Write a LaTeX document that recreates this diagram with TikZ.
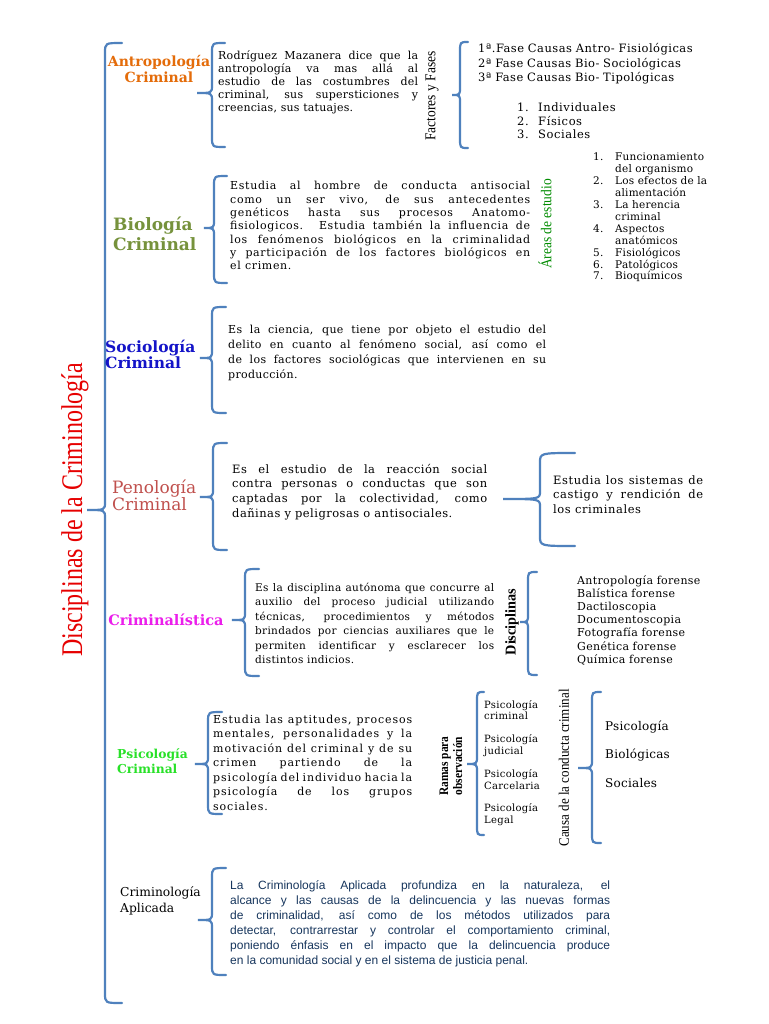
\documentclass[tikz,border=0pt]{standalone}
\usepackage{fontspec}
\setmainfont{DejaVu Serif}
\setsansfont{Liberation Sans}
\newfontfamily\angosta{Liberation Serif}
\usetikzlibrary{positioning,decorations.pathreplacing}
\definecolor{llaveazul}{RGB}{79,129,189}
\definecolor{antro}{RGB}{228,108,10}
\definecolor{bio}{RGB}{118,146,60}
\definecolor{socio}{RGB}{20,20,200}
\definecolor{peno}{RGB}{192,80,77}
\definecolor{crimi}{RGB}{235,30,235}
\definecolor{psico}{RGB}{40,225,40}
\definecolor{areas}{RGB}{0,140,0}
\definecolor{aplic}{RGB}{23,54,93}
\definecolor{titulo}{RGB}{230,0,0}
% tamano / interlineado / espaciado de letras
\newcommand\letra[3]{\fontsize{#1}{#2}\selectfont\addfontfeatures{LetterSpace=#3}}

\begin{document}
\begin{tikzpicture}[x=1pt,y=-1pt,
	llave/.style={draw=llaveazul,line width=2.2pt,line cap=round},
	cat/.style={inner sep=0pt,text width=120pt,align=left,anchor=base west},
	cuerpo/.style={anchor=base west,inner sep=0pt,align=justify},
	lista/.style={anchor=base west,inner sep=0pt,text width=260pt,align=left},
	vert/.style={rotate=90,inner sep=0pt,align=center,font=\angosta}]
	\useasboundingbox[fill=white] (0,0) rectangle (768,1024);
	
	% llaves: espina x / arriba / abajo / punta x / punta y / gancho
	\foreach \s/\t/\b/\tx/\ty/\h in {105/43/1003/87/510/17, 212/43/147/197/93/13,
		460/42/148/452/95/8, 214/176/283/204/228/13, 212/307/413/200/358/14,
		213/443/550/200/497/14, 540/453/546/503/499/35, 245/569/676/232/620/14,
		528/572/675/520/622/9, 208/712/814/195/764/14, 477/692/835/467/764/7,
		592/692/843/578/768/9, 212/868/975/198/920/14}{
		\draw[llave] ({\s+\h},\t) .. controls (\s,\t) .. (\s,{\t+10})
			-- (\s,{\ty-8}) .. controls (\s,\ty) .. (\tx,\ty)
			.. controls (\s,\ty) .. (\s,{\ty+8})
			-- (\s,{\b-10}) .. controls (\s,\b) .. ({\s+\h},\b);
	}
	
	% titulo
	\node[vert,text=titulo,font=\angosta\fontsize{30}{32}\selectfont] (titulo) at (75,510)
		{\scalebox{0.8}[1]{Disciplinas de la Criminología}};
	
	% disciplinas
	\node[cat,align=center,anchor=base,text=antro,font=\bfseries\fontsize{14}{16}\selectfont] (antro) at (159,67)
		{Antropología\\Criminal};
	\node[cat,text=bio,font=\bfseries\fontsize{17}{19}\selectfont] (bio) at (113,231) {Biología\\Criminal};
	\node[cat,text=socio,font=\bfseries\fontsize{15.5}{16.5}\selectfont] (socio) at (105,352) {Sociología\\Criminal};
	\node[cat,text=peno,font=\fontsize{17}{17}\selectfont] (peno) at (112,493) {Penología\\Criminal};
	\node[cat,align=center,anchor=base,text=crimi,font=\bfseries\fontsize{14.5}{15}\selectfont] (crimi) at (166,625) {Criminalística};
	\node[cat,text=psico,font=\bfseries\fontsize{12.3}{15}\selectfont] (psico) at (117,758) {Psicología\\Criminal};
	\node[cat,font=\fontsize{12.3}{16}\selectfont] (aplic) at (120,896) {Criminología\\Aplicada};
	
	% textos
	\node[cuerpo,text width=200pt,font=\letra{11}{12.9}{2}] (tAntro) at (218,60)
		{Rodríguez Mazanera dice que la\linebreak antropología va mas allá al\linebreak
		estudio de las costumbres del\linebreak criminal, sus supersticiones y\linebreak
		creencias, sus tatuajes.};
	\node[cuerpo,text width=300pt,font=\letra{11}{13.3}{6}] (tBio) at (230,190)
		{Estudia al hombre de conducta antisocial\linebreak como un ser vivo, de sus antecedentes\linebreak
		genéticos hasta sus procesos Anatomo-\linebreak fisiologicos. Estudia también la influencia de\linebreak
		los fenómenos biológicos en la criminalidad\linebreak y participación de los factores biológicos en\linebreak
		el crimen.};
	\node[cuerpo,text width=318pt,font=\letra{11}{15}{3}] (tSocio) at (228,333)
		{Es la ciencia, que tiene por objeto el estudio del\linebreak delito en cuanto al fenómeno social, así como el\linebreak
		de los factores sociológicas que intervienen en su\linebreak producción.};
	\node[cuerpo,text width=255pt,font=\letra{11.5}{14.7}{4}] (tPeno) at (232,473)
		{Es el estudio de la reacción social\linebreak contra personas o conductas que son\linebreak
		captadas por la colectividad, como\linebreak dañinas y peligrosas o antisociales.};
	\node[cuerpo,text width=150pt,font=\letra{11.5}{14.5}{5}] (tCastigo) at (553,484)
		{Estudia los sistemas de\linebreak castigo y rendición de\linebreak los criminales};
	\node[cuerpo,text width=239pt,font=\letra{10.5}{14.5}{3}] (tCrimi) at (255,591)
		{Es la disciplina autónoma que concurre al\linebreak auxilio del proceso judicial utilizando\linebreak
		técnicas, procedimientos y métodos\linebreak brindados por ciencias auxiliares que le\linebreak
		permiten identificar y esclarecer los\linebreak distintos indicios.};
	\node[cuerpo,text width=199pt,font=\letra{11}{14.5}{8}] (tPsico) at (213,723)
		{Estudia las aptitudes, procesos\linebreak mentales, personalidades y la\linebreak
		motivación del criminal y de su\linebreak crimen partiendo de la\linebreak
		psicología del individuo hacia la\linebreak psicología de los grupos\linebreak sociales.};
	\node[cuerpo,text width=380pt,text=aplic,font=\sffamily\fontsize{12}{15}\selectfont] (tAplic) at (230,889)
		{La Criminología Aplicada profundiza en la naturaleza, el\linebreak
		alcance y las causas de la delincuencia y las nuevas formas\linebreak
		de criminalidad, así como de los métodos utilizados para\linebreak
		detectar, contrarrestar y controlar el comportamiento criminal,\linebreak
		poniendo énfasis en el impacto que la delincuencia produce\linebreak
		en la comunidad social y en el sistema de justicia penal.};
	
	% etiquetas verticales
	\node[vert,font=\angosta\fontsize{15}{16}\selectfont] (factores) at (432,96)
		{\scalebox{0.9}[1]{Factores y Fases}};
	\node[vert,text=areas,font=\angosta\fontsize{15}{16}\selectfont] (areas) at (545,224)
		{\scalebox{0.9}[1]{Áreas de estudio}};
	\node[vert,font=\angosta\bfseries\fontsize{15}{16}\selectfont] (discip) at (512,622)
		{\scalebox{0.95}[1]{Disciplinas}};
	\node[vert,font=\angosta\bfseries\fontsize{13}{14}\selectfont] (ramas) at (451,766)
		{\scalebox{0.88}[1]{Ramas para}\\\scalebox{0.88}[1]{observación}};
	\node[vert,font=\angosta\fontsize{14.5}{15}\selectfont] (causa) at (564,768)
		{\scalebox{0.9}[1]{Causa de la conducta criminal}};
	
	% listas
	\node[lista,font=\letra{11.5}{14.5}{4}] (fases) at (478,53)
		{1ª.Fase Causas Antro- Fisiológicas\\2ª Fase Causas Bio- Sociológicas\\3ª Fase Causas Bio- Tipológicas};
	\node[lista,font=\letra{11.5}{13.5}{5}] (tipos) at (517,112)
		{\makebox[21pt][l]{1.}Individuales\\\makebox[21pt][l]{2.}Físicos\\\makebox[21pt][l]{3.}Sociales};
	\node[lista,font=\letra{10.5}{11.9}{2}] (areasLista) at (593,161)
		{\makebox[22pt][l]{1.}Funcionamiento\\\hspace*{22pt}del organismo\\
		\makebox[22pt][l]{2.}Los efectos de la\\\hspace*{22pt}alimentación\\
		\makebox[22pt][l]{3.}La herencia\\\hspace*{22pt}criminal\\
		\makebox[22pt][l]{4.}Aspectos\\\hspace*{22pt}anatómicos\\
		\makebox[22pt][l]{5.}Fisiológicos\\\makebox[22pt][l]{6.}Patológicos\\\makebox[22pt][l]{7.}Bioquímicos};
	\node[lista,font=\letra{11}{13.2}{3}] (forense) at (577,584)
		{Antropología forense\\Balística forense\\Dactiloscopia\\Documentoscopia\\
		Fotografía forense\\Genética forense\\Química forense};
	\node[lista,font=\letra{10}{11.8}{3}] (ramasLista) at (484,708)
		{Psicología\\criminal\\[11pt]Psicología\\judicial\\[11pt]Psicología\\Carcelaria\\[11pt]Psicología\\Legal};
	\node[lista,font=\letra{12}{28.5}{2}] (causaLista) at (605,730)
		{Psicología\\Biológicas\\Sociales};
\end{tikzpicture}
\end{document}
